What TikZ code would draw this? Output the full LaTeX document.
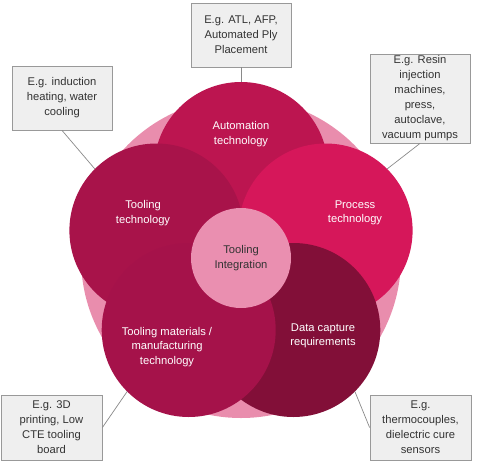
\documentclass[tikz,border=0pt]{standalone}
\usepackage{fontspec}
\setmainfont{Liberation Sans}
\definecolor{bgpink}{HTML}{E98DAD}
\definecolor{cauto}{HTML}{BC1550}
\definecolor{ctool}{HTML}{A8134A}
\definecolor{cproc}{HTML}{D6175A}
\definecolor{cmat}{HTML}{A5124A}
\definecolor{cdata}{HTML}{820F38}
\definecolor{ccenter}{HTML}{EA8FB0}
\definecolor{boxfill}{HTML}{EFEFEF}
\definecolor{boxline}{HTML}{999999}
\definecolor{txt}{HTML}{333333}
\tikzset{
  bigc/.style={circle, inner sep=0pt, minimum size=174pt, text=white, align=center,
    font=\fontsize{11.2}{14.5}\selectfont},
  note/.style={draw=boxline, line width=0.8pt, fill=boxfill, text=txt, align=center,
    inner sep=0pt, font=\fontsize{11.2}{15}\selectfont},
  conn/.style={draw=boxline!90!black, line width=0.7pt}
}
\begin{document}
\begin{tikzpicture}[x=1pt,y=-1pt]
\useasboundingbox (0,0) rectangle (484,463);
\fill[bgpink] (241,258) circle (160pt);
\node[bigc, fill=cauto] (auto) at (241,169) {};
\node[bigc, fill=cproc] (proc) at (325.6,230.5) {};
\node[bigc, fill=ctool] (tool) at (156.4,230.5) {};
\node[bigc, fill=cdata] (data) at (293.3,330) {};
\node[bigc, fill=cmat] (mat) at (188.7,330) {};
\node[circle, fill=ccenter, inner sep=0pt, minimum size=100pt, text=txt, align=center,
  font=\fontsize{11.2}{14.5}\selectfont] (core) at (241,258) {Tooling\\Integration};
\node[text=white, align=center, font=\fontsize{11.2}{14.5}\selectfont] (lauto) at (241,134) {Automation\\technology};
\node[text=white, align=center, font=\fontsize{11.2}{14.5}\selectfont] (ltool) at (143,213) {Tooling\\technology};
\node[text=white, align=center, font=\fontsize{11.2}{14.5}\selectfont] (lproc) at (355,213) {Process\\technology};
\node[text=white, align=center, font=\fontsize{11.2}{14.5}\selectfont] (lmat) at (167,347) {Tooling materials /\\manufacturing\\technology};
\node[text=white, align=center, font=\fontsize{11.2}{14.5}\selectfont] (ldata) at (323,336) {Data capture\\requirements};
\node[note, minimum width=100pt, minimum height=64pt] (bt) at (241,35) {E.g. ATL, AFP,\\Automated Ply\\Placement};
\node[note, minimum width=100pt, minimum height=64pt] (bl) at (62,98) {E.g. induction\\heating, water\\cooling};
\node[note, minimum width=100pt, minimum height=89pt] (br) at (420,98.5) {E.g. Resin\\injection\\machines,\\press,\\autoclave,\\vacuum pumps};
\node[note, minimum width=101pt, minimum height=65pt] (bbl) at (51.5,427.5) {E.g. 3D\\printing, Low\\CTE tooling\\board};
\node[note, minimum width=101pt, minimum height=65pt] (bbr) at (420.5,427.5) {E.g.\\thermocouples,\\dielectric cure\\sensors};
\draw[conn] (bt.south) -- (auto.north);
\draw[conn] (bl.south) -- (tool.135);
\draw[conn] (br.south) -- (proc.45);
\draw[conn] (bbl.east) -- (mat.225);
\draw[conn] (bbr.west) -- (data.-45);
\end{tikzpicture}
\end{document}
